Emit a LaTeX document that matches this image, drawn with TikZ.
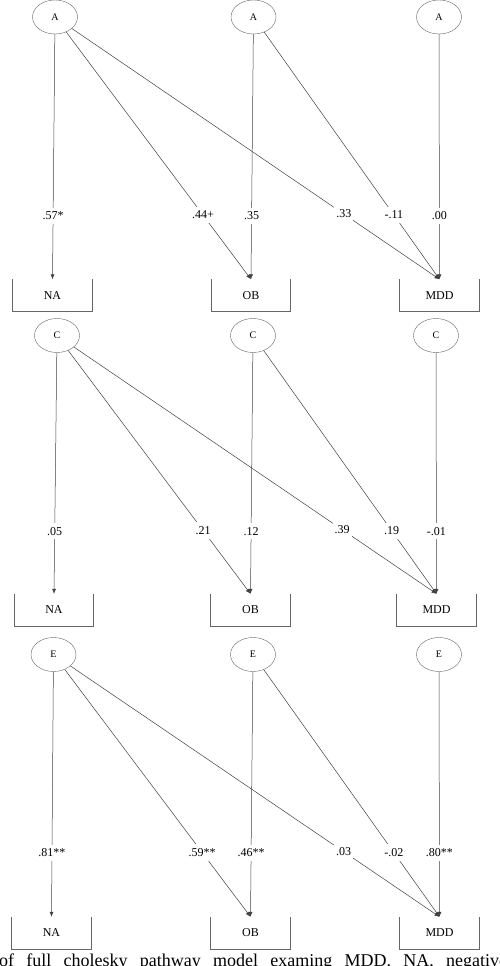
\documentclass[tikz,border=0pt]{standalone}
\usepackage{fontspec}
\setmainfont{Liberation Serif}
\usetikzlibrary{arrows.meta,shapes.geometric}
\tikzset{
  latent/.style={draw=black!60, ellipse, minimum width=45pt, minimum height=34pt, inner sep=0pt, font=\fontsize{10}{12}\selectfont},
  observed/.style={minimum width=79pt, minimum height=32pt, inner sep=0pt, font=\fontsize{12}{14}\selectfont},
  boxline/.style={draw=black!60, line width=0.7pt},
  pathline/.style={-{Latex[length=5pt,width=4pt]}, draw=black!75, line width=0.5pt},
  coef/.style={fill=white, inner xsep=2pt, inner ysep=4pt, pos=0.74, font=\fontsize{12}{14}\selectfont},
  caption/.style={inner sep=0pt, anchor=base west, font=\fontsize{18}{20}\selectfont}
}
\begin{document}
\begin{tikzpicture}[x=1pt, y=-1pt]
  \useasboundingbox (0,0) rectangle (500,966);

  % additive genetic
  \node[latent] (a1) at (55,17) {A};
  \node[latent] (a2) at (253.5,17) {A};
  \node[latent] (a3) at (439,17) {A};
  \node[observed] (na1) at (52.5,295.5) {NA};
  \node[observed] (ob1) at (251,295.5) {OB};
  \node[observed] (md1) at (439.5,295.5) {MDD};

  \draw[pathline] (a1) -- node[coef] {.57*} (na1.north);
  \draw[pathline] (a1) -- node[coef] {.44+} (ob1.north);
  \draw[pathline] (a1) -- node[coef] {.33} (md1.north);
  \draw[pathline] (a2) -- node[coef] {.35} (ob1.north);
  \draw[pathline] (a2) -- node[coef] {-.11} (md1.north);
  \draw[pathline] (a3) -- node[coef] {.00} (md1.north);

  % shared environment
  \node[latent] (c1) at (57,335.5) {C};
  \node[latent] (c2) at (253,335.5) {C};
  \node[latent] (c3) at (436,335.5) {C};
  \node[observed] (na2) at (54,610) {NA};
  \node[observed] (ob2) at (250.5,610) {OB};
  \node[observed] (md2) at (436.5,610) {MDD};

  \draw[pathline] (c1) -- node[coef] {.05} (na2.north);
  \draw[pathline] (c1) -- node[coef] {.21} (ob2.north);
  \draw[pathline] (c1) -- node[coef] {.39} (md2.north);
  \draw[pathline] (c2) -- node[coef] {.12} (ob2.north);
  \draw[pathline] (c2) -- node[coef] {.19} (md2.north);
  \draw[pathline] (c3) -- node[coef] {-.01} (md2.north);

  % unique environment
  \node[latent] (e1) at (53.5,654.5) {E};
  \node[latent] (e2) at (253,654.5) {E};
  \node[latent] (e3) at (439,654.5) {E};
  \node[observed] (na3) at (51.5,933) {NA};
  \node[observed] (ob3) at (250.5,933) {OB};
  \node[observed] (md3) at (439.5,933) {MDD};

  \draw[pathline] (e1) -- node[coef] {.81**} (na3.north);
  \draw[pathline] (e1) -- node[coef] {.59**} (ob3.north);
  \draw[pathline] (e1) -- node[coef] {.03} (md3.north);
  \draw[pathline] (e2) -- node[coef] {.46**} (ob3.north);
  \draw[pathline] (e2) -- node[coef] {-.02} (md3.north);
  \draw[pathline] (e3) -- node[coef] {.80**} (md3.north);

  % open-top boxes
  \foreach \n in {na1,ob1,md1,na2,ob2,md2,na3,ob3,md3}
    \draw[boxline] (\n.north west) |- (\n.south) -| (\n.north east);

  \node[caption] (cap) at (-1,966.5) {\makebox[508pt][s]{of full cholesky pathway model examing MDD. NA, negative}};
\end{tikzpicture}
\end{document}
